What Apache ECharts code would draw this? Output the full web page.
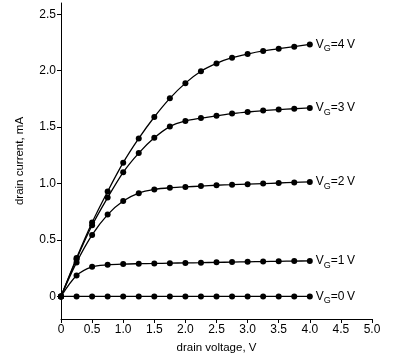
<!DOCTYPE html>
<html>
<head>
<meta charset="utf-8">
<script src="https://cdn.jsdelivr.net/npm/echarts@6/dist/echarts.min.js"></script>
<style>html,body{margin:0;padding:0;background:#fff}#c{width:414px;height:359px}</style>
</head>
<body>
<div id="c"></div>
<script>
var voltages = [0, 0.25, 0.5, 0.75, 1.0, 1.25, 1.5, 1.75, 2.0, 2.25, 2.5, 2.75, 3.0, 3.25, 3.5, 3.75, 4.0];
var gateLabels = ['4', '3', '2', '1', '0'];
var vg4 = [0, 0.34, 0.655, 0.93, 1.185, 1.40, 1.59, 1.755, 1.89, 1.995, 2.065, 2.115, 2.148, 2.175, 2.195, 2.213, 2.233];
var vg3 = [0, 0.33, 0.63, 0.876, 1.10, 1.27, 1.405, 1.505, 1.555, 1.58, 1.60, 1.62, 1.634, 1.647, 1.656, 1.663, 1.67];
var vg2 = [0, 0.30, 0.545, 0.725, 0.845, 0.915, 0.948, 0.963, 0.97, 0.978, 0.985, 0.99, 0.995, 1.0, 1.005, 1.01, 1.015];
var vg1 = [0, 0.185, 0.262, 0.28, 0.287, 0.29, 0.292, 0.295, 0.297, 0.299, 0.302, 0.304, 0.307, 0.309, 0.311, 0.313, 0.315];
var vg0 = [0, 0, 0, 0, 0, 0, 0, 0, 0, 0, 0, 0, 0, 0, 0, 0, 0];
var xTicks = [0, 0.5, 1.0, 1.5, 2.0, 2.5, 3.0, 3.5, 4.0, 4.5, 5.0];
var yTicks = [0, 0.5, 1.0, 1.5, 2.0, 2.5];

var allY = [vg4, vg3, vg2, vg1, vg0];
var font = "'Liberation Sans', Arial, Helvetica, sans-serif";
function fmt(v){ return v === 0 ? '0' : v.toFixed(1); }
var series = allY.map(function(ys, i){
  return {
    type: 'line',
    data: voltages.map(function(x, j){ return [x, ys[j]]; }),
    smooth: 0.3,
    symbol: 'circle',
    symbolSize: 6,
    itemStyle: {color: '#000'},
    lineStyle: {color: '#000', width: 1.3},
    endLabel: {
      show: true,
      distance: 6,
      formatter: '{a|V}{s|G}{a|=' + gateLabels[i] + '\u2009V}',
      rich: {
        a: {fontSize: 12, fontFamily: font, color: '#000', lineHeight: 18, verticalAlign: 'middle'},
        s: {fontSize: 9, fontFamily: font, color: '#000', lineHeight: 9, verticalAlign: 'bottom'}
      }
    },
    animation: false
  };
});

var chart = echarts.init(document.getElementById('c'));
chart.setOption({
  animation: false,
  grid: {left: 61, right: 42, top: 3, bottom: 38.5},
  xAxis: {
    type: 'value', min: 0, max: 5, interval: 0.5,
    name: 'drain voltage, V', nameLocation: 'middle', nameGap: 23,
    nameTextStyle: {fontSize: 11.5, fontFamily: font, color: '#000'},
    axisLine: {show: true, onZero: false, lineStyle: {color: '#000', width: 1}},
    axisTick: {show: true, length: 4, lineStyle: {color: '#000'}},
    axisLabel: {fontSize: 12, fontFamily: font, color: '#000', margin: 5, formatter: fmt},
    splitLine: {show: false}
  },
  yAxis: {
    type: 'value', min: -0.2, max: 2.6,
    name: 'drain current, mA', nameLocation: 'middle', nameGap: 35,
    nameTextStyle: {fontSize: 11.5, fontFamily: font, color: '#000'},
    axisLine: {show: true, onZero: false, lineStyle: {color: '#000', width: 1}},
    axisTick: {show: true, length: 4, lineStyle: {color: '#000'}, customValues: yTicks},
    axisLabel: {fontSize: 12, fontFamily: font, color: '#000', margin: 5, customValues: yTicks, formatter: fmt},
    splitLine: {show: false}
  },
  series: series
});
</script>
</body>
</html>
